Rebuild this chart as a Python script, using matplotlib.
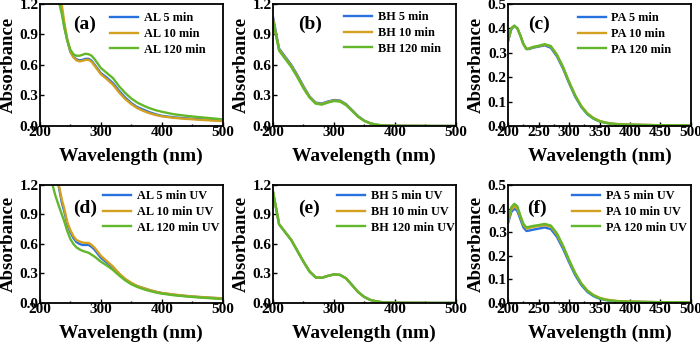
import numpy as np
import matplotlib.pyplot as plt
from matplotlib.ticker import MultipleLocator

plt.rcParams['font.family'] = ['Liberation Serif', 'DejaVu Serif']
plt.rcParams['font.weight'] = 'bold'

# wavelengths (nm)
wl = [200, 210, 220, 230, 240, 250, 260, 270, 280, 290, 300, 310, 320, 330, 340,
      350, 360, 370, 380, 390, 400, 420, 440, 460, 480, 500]
wl_al = [220, 225, 232, 236, 240, 245, 250, 255, 260, 265, 270, 275, 280, 285, 290, 300, 310, 320, 330, 340,
         350, 360, 370, 380, 390, 400, 420, 440, 460, 480, 500]

# (a) AL
al_5 = [1.6, 1.45, 1.26, 1.14, 0.98, 0.84, 0.73, 0.68, 0.655, 0.645, 0.65, 0.66, 0.66, 0.64, 0.6, 0.52, 0.475, 0.42,
        0.345, 0.28, 0.225, 0.185, 0.16, 0.135, 0.115, 0.10, 0.085, 0.075, 0.068, 0.06, 0.052]
al_10 = [1.6, 1.45, 1.28, 1.19, 1.02, 0.85, 0.73, 0.675, 0.645, 0.635, 0.64, 0.65, 0.65, 0.63, 0.59, 0.51, 0.46, 0.405,
         0.33, 0.265, 0.215, 0.175, 0.148, 0.125, 0.108, 0.095, 0.08, 0.07, 0.062, 0.055, 0.048]
al_120 = [1.6, 1.4, 1.2, 1.1, 0.97, 0.84, 0.75, 0.705, 0.69, 0.69, 0.7, 0.71, 0.705, 0.69, 0.655, 0.57, 0.52, 0.47,
          0.39, 0.325, 0.27, 0.23, 0.2, 0.175, 0.155, 0.14, 0.115, 0.1, 0.088, 0.077, 0.065]

# (b) BH
bh_5 = [1.07, 0.76, 0.68, 0.6, 0.5, 0.39, 0.29, 0.23, 0.22, 0.24, 0.255, 0.25, 0.215, 0.155, 0.095,
        0.052, 0.026, 0.012, 0.006, 0.003, 0.002, 0.001, 0.001, 0.0, 0.0, 0.0]
bh_10 = [1.05, 0.75, 0.67, 0.59, 0.49, 0.38, 0.285, 0.225, 0.215, 0.235, 0.25, 0.245, 0.21, 0.15, 0.09,
         0.05, 0.025, 0.012, 0.006, 0.003, 0.002, 0.001, 0.001, 0.0, 0.0, 0.0]
bh_120 = [1.03, 0.74, 0.66, 0.58, 0.48, 0.37, 0.28, 0.22, 0.21, 0.23, 0.245, 0.24, 0.205, 0.148, 0.09,
          0.05, 0.025, 0.012, 0.006, 0.003, 0.002, 0.001, 0.001, 0.0, 0.0, 0.0]

# (c) PA
wl_pa = [200, 205, 210, 215, 220, 225, 230, 235, 240, 250, 260, 270, 280, 290, 300, 310, 320, 330, 340,
         350, 360, 370, 380, 400, 420, 450, 500]
pa_5 = [0.35, 0.395, 0.41, 0.4, 0.37, 0.335, 0.315, 0.315, 0.32, 0.325, 0.33, 0.32, 0.285, 0.235, 0.175,
        0.12, 0.078, 0.048, 0.03, 0.019, 0.013, 0.009, 0.007, 0.005, 0.004, 0.003, 0.002]
pa_10 = [0.35, 0.4, 0.41, 0.4, 0.37, 0.335, 0.315, 0.317, 0.322, 0.327, 0.333, 0.325, 0.29, 0.24, 0.18,
         0.125, 0.082, 0.052, 0.033, 0.021, 0.014, 0.01, 0.008, 0.006, 0.005, 0.003, 0.002]
pa_120 = [0.35, 0.4, 0.41, 0.4, 0.37, 0.335, 0.315, 0.318, 0.323, 0.328, 0.335, 0.327, 0.292, 0.242, 0.18,
          0.125, 0.08, 0.05, 0.031, 0.019, 0.013, 0.009, 0.007, 0.005, 0.004, 0.003, 0.002]

# (d) AL UV
al_5_uv = [1.6, 1.38, 1.15, 1.02, 0.93, 0.8, 0.72, 0.66, 0.62, 0.6, 0.59, 0.59, 0.59, 0.57, 0.54, 0.46, 0.41, 0.36,
           0.295, 0.24, 0.2, 0.17, 0.15, 0.13, 0.113, 0.1, 0.083, 0.07, 0.06, 0.052, 0.045]
al_10_uv = [1.6, 1.4, 1.17, 1.05, 0.96, 0.82, 0.74, 0.68, 0.64, 0.625, 0.615, 0.61, 0.61, 0.59, 0.56, 0.48, 0.425, 0.37,
            0.3, 0.245, 0.205, 0.172, 0.152, 0.132, 0.115, 0.102, 0.085, 0.072, 0.062, 0.054, 0.047]
al_120_uv = [1.22, 1.1, 0.97, 0.9, 0.83, 0.73, 0.65, 0.6, 0.565, 0.545, 0.53, 0.52, 0.51, 0.49, 0.47, 0.42, 0.38, 0.335,
             0.28, 0.23, 0.19, 0.162, 0.14, 0.122, 0.107, 0.095, 0.078, 0.066, 0.056, 0.048, 0.04]

# (e) BH UV
bh_5_uv = [1.13, 0.8, 0.72, 0.64, 0.53, 0.42, 0.32, 0.26, 0.255, 0.275, 0.29, 0.285, 0.25, 0.18, 0.11,
           0.06, 0.03, 0.015, 0.007, 0.004, 0.002, 0.001, 0.001, 0.0, 0.0, 0.0]
bh_10_uv = bh_5_uv
bh_120_uv = bh_5_uv

# (f) PA UV
pa_5_uv = [0.34, 0.385, 0.4, 0.39, 0.355, 0.32, 0.305, 0.307, 0.31, 0.315, 0.32, 0.313, 0.28, 0.23, 0.172,
           0.118, 0.076, 0.047, 0.029, 0.018, 0.012, 0.009, 0.007, 0.005, 0.004, 0.003, 0.002]
pa_10_uv = [0.345, 0.395, 0.41, 0.4, 0.365, 0.33, 0.315, 0.318, 0.322, 0.326, 0.33, 0.323, 0.29, 0.24, 0.18,
            0.126, 0.083, 0.053, 0.034, 0.022, 0.015, 0.011, 0.008, 0.006, 0.005, 0.003, 0.002]
pa_120_uv = [0.35, 0.405, 0.42, 0.41, 0.37, 0.335, 0.32, 0.323, 0.326, 0.33, 0.335, 0.328, 0.295, 0.243, 0.182,
             0.126, 0.082, 0.051, 0.032, 0.02, 0.013, 0.009, 0.007, 0.005, 0.004, 0.003, 0.002]

colors = ['#2872e0', '#d4a020', '#62b82a']

panels = [
    ('(a)', wl_al, [al_5, al_10, al_120], ['AL 5 min', 'AL 10 min', 'AL 120 min'], 1.2, 0.3, 100),
    ('(b)', wl, [bh_5, bh_10, bh_120], ['BH 5 min', 'BH 10 min', 'BH 120 min'], 1.2, 0.3, 100),
    ('(c)', wl_pa, [pa_5, pa_10, pa_120], ['PA 5 min', 'PA 10 min', 'PA 120 min'], 0.5, 0.1, 50),
    ('(d)', wl_al, [al_5_uv, al_10_uv, al_120_uv], ['AL 5 min UV', 'AL 10 min UV', 'AL 120 min UV'], 1.2, 0.3, 100),
    ('(e)', wl, [bh_5_uv, bh_10_uv, bh_120_uv], ['BH 5 min UV', 'BH 10 min UV', 'BH 120 min UV'], 1.2, 0.3, 100),
    ('(f)', wl_pa, [pa_5_uv, pa_10_uv, pa_120_uv], ['PA 5 min UV', 'PA 10 min UV', 'PA 120 min UV'], 0.5, 0.1, 50),
]

lefts = [0.057, 0.39, 0.726]
bottoms = [0.639, 0.132]
heights = [0.35, 0.338]
label_x = [0.18, 0.137, 0.11, 0.18, 0.137, 0.105]
label_y = [0.83, 0.83, 0.83, 0.805, 0.805, 0.805]
leg_x = [0.365, 0.37, 0.36, 0.326, 0.33, 0.33]
leg_y = [0.96, 0.97, 0.96, 0.985, 0.985, 0.985]

fig = plt.figure(figsize=(7, 3.49), dpi=100)
for i, (lab, x, ys, names, ymax, ystep, xstep) in enumerate(panels):
    ax = fig.add_axes([lefts[i % 3], bottoms[i // 3], 0.261, heights[i // 3]])
    for y, c, n in zip(ys, colors, names):
        ax.plot(x, y, color=c, lw=1.7, label=n)
    ax.set_xlim(200, 500)
    ax.set_ylim(0, ymax)
    ax.xaxis.set_major_locator(MultipleLocator(xstep))
    ax.xaxis.set_minor_locator(MultipleLocator(xstep / 2))
    ax.yaxis.set_major_locator(MultipleLocator(ystep))
    ax.yaxis.set_major_formatter(plt.FormatStrFormatter('%.1f'))
    ax.tick_params(direction='in', which='both', labelsize=11, pad=1, width=1.0)
    ax.tick_params(axis='x', pad=0)
    ax.tick_params(which='major', length=3)
    ax.tick_params(which='minor', length=1.5)
    for s in ax.spines.values():
        s.set_linewidth(1.3)
    ax.set_xlabel('Wavelength (nm)', fontsize=14, fontweight='bold', labelpad=6)
    ax.set_ylabel('Absorbance', fontsize=13.5, fontweight='bold', labelpad=2)
    ax.text(label_x[i], label_y[i], lab, transform=ax.transAxes, fontsize=14,
            fontweight='bold', va='center')
    ax.legend(loc='upper left', bbox_to_anchor=(leg_x[i], leg_y[i]), frameon=False,
              handlelength=2.3, handletextpad=0.45, labelspacing=0.3,
              borderaxespad=0.0, borderpad=0.3,
              prop={'weight': 'bold', 'size': 8.8})

plt.savefig('out.png', dpi=100)
